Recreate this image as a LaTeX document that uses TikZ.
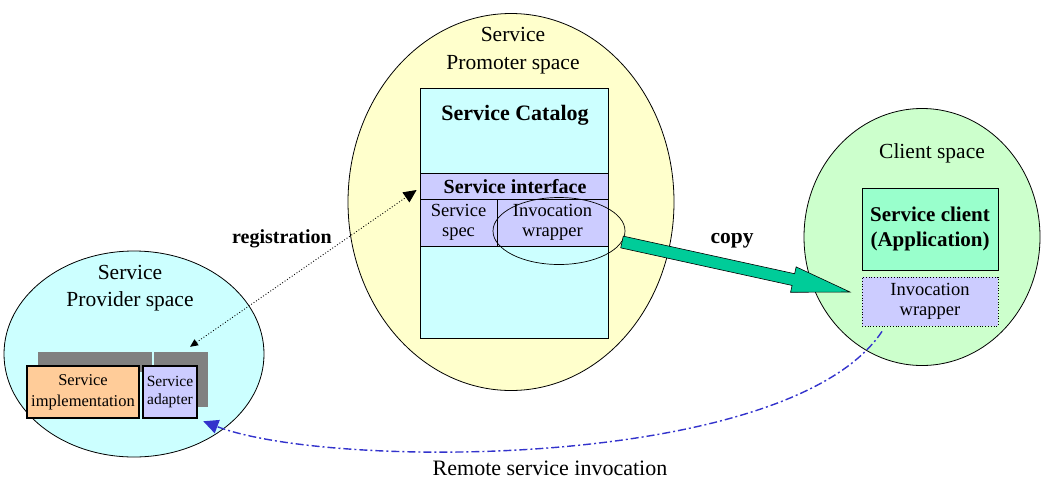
\documentclass[tikz,border=0pt]{standalone}
\usepackage{fontspec}
\setmainfont{Liberation Serif}
\usetikzlibrary{arrows.meta,calc,shapes.geometric}
\definecolor{provfill}{HTML}{CCFFFF}
\definecolor{promfill}{HTML}{FFFFCC}
\definecolor{clifill}{HTML}{CCFFCC}
\definecolor{catfill}{HTML}{CCFFFF}
\definecolor{lav}{HTML}{CCCCFF}
\definecolor{mint}{HTML}{99FFCC}
\definecolor{copyc}{HTML}{00CC99}
\definecolor{implc}{HTML}{FFCC99}
\definecolor{grayc}{HTML}{808080}
\definecolor{bluec}{HTML}{3333CC}
\begin{document}
\begin{tikzpicture}[x=1pt,y=-1pt,
  space/.style={ellipse, draw=black, line width=0.8pt, inner sep=0pt},
  box/.style={rectangle, draw=black, line width=0.8pt, inner sep=0pt, align=center},
  thickbox/.style={rectangle, draw=black, line width=2.5pt, inner sep=0pt, align=center},
  lbl/.style={inner sep=0pt, align=center},
]
\useasboundingbox (0,0) rectangle (1043,480);

% spaces
\node[space, fill=provfill, minimum width=260pt, minimum height=206pt] (prov) at (134,354) {};
\node[space, fill=promfill, minimum width=326pt, minimum height=377pt] (prom) at (511,202) {};
\node[space, fill=clifill, minimum width=236pt, minimum height=257pt] (cli) at (922,237) {};

% promoter
\node[lbl, font=\fontsize{21.5}{28}\selectfont] (promt) at (513,51) {Service\\Promoter space};
\node[box, fill=catfill, minimum width=188pt, minimum height=250pt] (cat) at (514,213) {};
\node[lbl, font=\fontsize{22}{24}\bfseries\selectfont] (catt) at (515,115) {Service Catalog};
\node[box, fill=lav, minimum width=188pt, minimum height=26pt] (iface) at (514,186) {};
\node[lbl, font=\fontsize{20}{22}\bfseries\selectfont] (ifacet) at (515,187) {Service interface};
\node[box, fill=lav, minimum width=77pt, minimum height=47pt, font=\fontsize{18.5}{20}\selectfont] (spec) at (458.5,222.5) {Service\\spec};
\node[box, fill=lav, minimum width=111pt, minimum height=47pt, font=\fontsize{18.5}{20}\selectfont] (wrap) at (552.5,222.5) {Invocation\\wrapper};
\node[space, minimum width=132pt, minimum height=67pt, line width=0.7pt] (wrapov) at (559,231) {};

% client
\node[lbl, font=\fontsize{21.5}{24}\selectfont] (clit) at (932,153) {Client space};
\node[box, fill=mint, minimum width=136pt, minimum height=82pt, font=\fontsize{21}{25}\bfseries\selectfont] (scl) at (930,229) {Service client\\(Application)};
\node[box, fill=lav, dotted, minimum width=136pt, minimum height=49pt, font=\fontsize{18.5}{20}\selectfont] (cwrap) at (930,301.5) {Invocation\\wrapper};

% provider
\node[lbl, font=\fontsize{21.5}{27}\selectfont] (provt) at (130,288.5) {Service\\Provider space};
\node[rectangle, fill=grayc, minimum width=114pt, minimum height=20pt, inner sep=0pt] (bar1) at (95,362) {};
\node[rectangle, fill=grayc, minimum width=54pt, minimum height=55pt, inner sep=0pt] (bar2) at (181,379.5) {};
\node[thickbox, fill=implc, minimum width=112pt, minimum height=52pt, font=\fontsize{16.5}{21}\selectfont] (impl) at (83,392) {Service\\implementation};
\node[thickbox, fill=lav, minimum width=54pt, minimum height=52pt, font=\fontsize{15.5}{18}\selectfont] (adap) at (170,392) {Service\\adapter};

% copy arrow
\coordinate (cs) at (622,242);
\coordinate (ct) at (850,292);
\coordinate (hb) at ($(ct)!58pt!(cs)$);
\fill[copyc, draw=black, line width=0.6pt]
  ($(cs)!6pt!90:(ct)$) -- ($(hb)!6pt!90:(ct)$) -- ($(hb)!13pt!90:(ct)$) -- (ct)
  -- ($(hb)!13pt!-90:(ct)$) -- ($(hb)!6pt!-90:(ct)$) -- ($(cs)!6pt!-90:(ct)$) -- cycle;
\node[lbl, font=\fontsize{21.5}{24}\bfseries\selectfont] (copyt) at (732,241) {copy};

% registration
\coordinate (regA) at ($(bar2.north)+(9,-5)$);
\coordinate (regB) at ($(iface.west)+(-3,4)$);
\draw[dotted, line width=0.9pt, {Triangle[width=7pt,length=8pt]}-{Triangle[width=12pt,length=13pt]}] (regA) -- (regB);
\node[lbl, font=\fontsize{20}{22}\bfseries\selectfont] (regt) at (282,239) {registration};

% remote invocation
\coordinate (rs) at ($(cwrap.south)+(-48,5)$);
\coordinate (re) at ($(adap.south east)+(5,2)$);
\draw[bluec, line width=1.4pt, dash pattern=on 8pt off 3pt on 2pt off 3pt, -{Triangle[width=14pt,length=15pt]}]
  (rs) .. controls (790,470) and (330,470) .. (re);
\node[lbl, font=\fontsize{22}{24}\selectfont] (remt) at (550,468) {Remote service invocation};
\end{tikzpicture}
\end{document}
